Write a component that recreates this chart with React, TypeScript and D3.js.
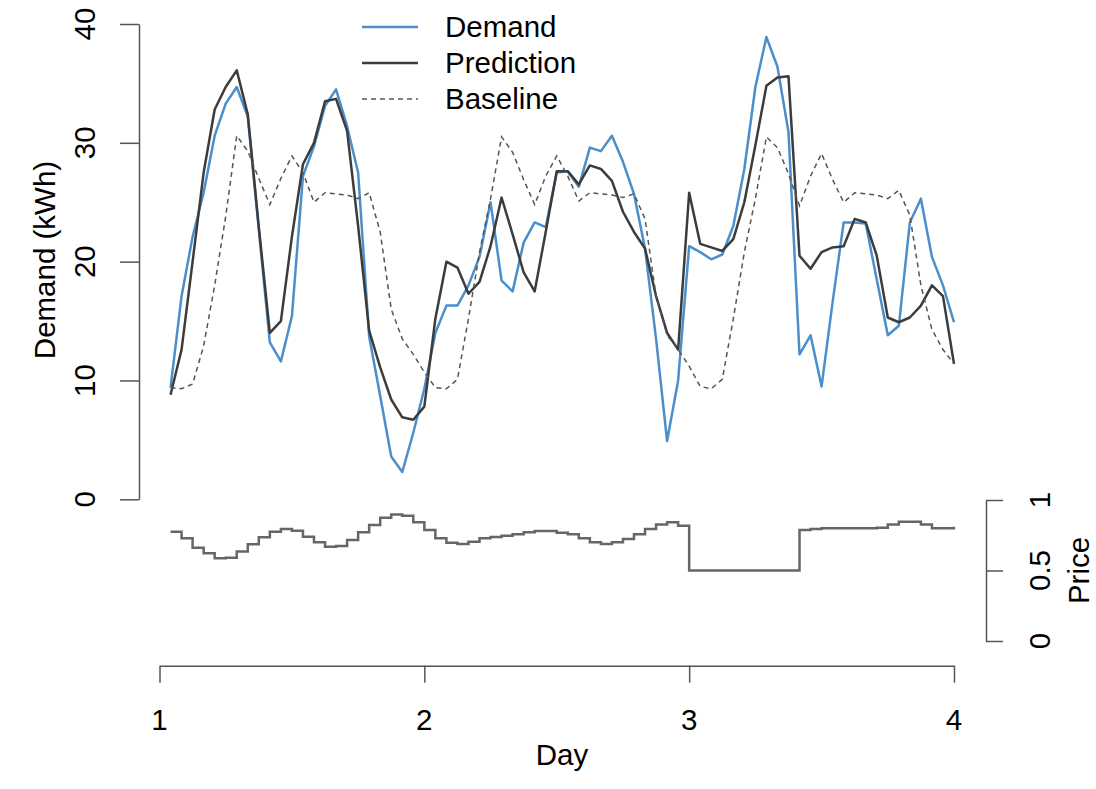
import React, { useRef, useEffect } from 'react';
import * as d3 from 'd3';

// hourly index over three days, day = 1 + hour / 24
const hours = d3.range(1, 73);

const demand = [
  9.4, 17.1, 22.1, 25.8, 30.6, 33.3, 34.7, 32.2, 22.7, 13.2, 11.6, 15.4,
  27.2, 29.7, 33.1, 34.5, 31.4, 27.5, 13.7, 8.7, 3.6, 2.3, 5.6, 9.3,
  14.0, 16.3, 16.3, 18.0, 20.4, 25.0, 18.4, 17.5, 21.6, 23.3, 22.9, 27.5,
  27.6, 26.3, 29.6, 29.3, 30.6, 28.4, 25.7, 21.1, 13.5, 4.9, 10.0, 21.3,
  20.8, 20.2, 20.6, 23.0, 27.8, 34.7, 38.9, 36.4, 30.9, 12.2, 13.8, 9.5,
  16.6, 23.3, 23.3, 23.2, 18.5, 13.8, 14.6, 23.3, 25.3, 20.4, 18.0, 14.9,
];

const prediction = [
  8.8, 12.6, 20.0, 27.5, 32.8, 34.7, 36.1, 32.4, 22.9, 14.0, 15.0, 22.1,
  28.2, 30.0, 33.5, 33.7, 31.0, 23.0, 14.2, 11.1, 8.4, 6.9, 6.7, 7.8,
  15.2, 20.0, 19.5, 17.3, 18.3, 21.3, 25.4, 22.3, 19.1, 17.5, 22.5, 27.6,
  27.6, 26.5, 28.1, 27.8, 26.8, 24.2, 22.5, 21.1, 17.1, 14.0, 12.6, 25.8,
  21.5, 21.2, 20.9, 21.9, 25.0, 29.8, 34.8, 35.5, 35.6, 20.5, 19.4, 20.8,
  21.2, 21.3, 23.6, 23.3, 20.5, 15.3, 14.9, 15.3, 16.3, 18.0, 17.1, 11.4,
];

const baseline = [
  9.4, 9.3, 9.7, 12.9, 18.0, 23.8, 30.6, 29.3, 27.0, 24.8, 27.0, 28.9,
  27.5, 25.0, 25.8, 25.7, 25.6, 25.3, 25.8, 22.5, 16.0, 13.5, 12.2, 10.7,
  9.4, 9.3, 10.1, 15.2, 20.8, 25.3, 30.5, 29.2, 26.9, 24.8, 27.2, 28.9,
  27.2, 25.1, 25.8, 25.7, 25.6, 25.4, 25.7, 23.6, 17.1, 13.8, 12.6, 11.2,
  9.5, 9.3, 10.1, 15.2, 20.8, 25.3, 30.5, 29.6, 27.4, 24.7, 27.2, 29.1,
  26.9, 25.0, 25.8, 25.7, 25.6, 25.3, 26.0, 23.9, 18.0, 14.3, 12.6, 11.4,
];

const price = [
  0.775, 0.728, 0.662, 0.622, 0.586, 0.591, 0.634, 0.686, 0.735, 0.775, 0.794, 0.782,
  0.740, 0.700, 0.669, 0.674, 0.716, 0.771, 0.823, 0.875, 0.898, 0.889, 0.842, 0.787,
  0.728, 0.697, 0.688, 0.704, 0.728, 0.738, 0.747, 0.757, 0.771, 0.780, 0.780, 0.768,
  0.757, 0.728, 0.700, 0.688, 0.700, 0.723, 0.757, 0.794, 0.827, 0.842, 0.818, 0.5,
  0.5, 0.5, 0.5, 0.5, 0.5, 0.5, 0.5, 0.5, 0.5, 0.787, 0.794, 0.799,
  0.799, 0.799, 0.799, 0.799, 0.804, 0.827, 0.846, 0.846, 0.827, 0.799, 0.799, 0.811,
];

const dayTicks = [1, 2, 3, 4];
const demandTicks = [0, 10, 20, 30, 40];
const priceTicks = [0, 0.5, 1];

const legendItems = [
  { label: 'Demand', color: '#4a8fcc', width: 2.5, dash: null },
  { label: 'Prediction', color: '#3c3c3c', width: 2.5, dash: null },
  { label: 'Baseline', color: '#555', width: 1.5, dash: '5,4' },
];

const FONT = '"Liberation Sans", Arial, Helvetica, sans-serif';
const FS = 29.5;

const App = () => {
  const ref = useRef<SVGSVGElement | null>(null);

  useEffect(() => {
    if (!ref.current) return;
    const svg = d3.select(ref.current);
    svg.selectAll('*').remove();

    const x = d3.scaleLinear().domain([1, 4]).range([159.5, 954]);
    const y = d3.scaleLinear().domain([0, 40]).range([499.3, 24]);
    const yp = d3.scaleLinear().domain([0, 1]).range([641, 500]);
    const day = (h: number) => 1 + h / 24;

    const axisColor = '#555';

    // left axis
    svg.append('g')
      .attr('transform', 'translate(139,0)')
      .call(d3.axisLeft(y).tickValues(demandTicks).tickSize(19).tickSizeOuter(0))
      .call(g => g.selectAll('text').remove())
      .call(g => g.selectAll('path,line').attr('stroke', axisColor).attr('stroke-width', 1.5));

    demandTicks.forEach(t => {
      svg.append('text')
        .attr('transform', `translate(85,${y(t)}) rotate(-90)`)
        .attr('text-anchor', 'middle')
        .attr('dy', '0.35em')
        .attr('font-family', FONT)
        .attr('font-size', FS)
        .text(t);
    });

    svg.append('text')
      .attr('transform', 'translate(45,260) rotate(-90)')
      .attr('text-anchor', 'middle')
      .attr('dy', '0.35em')
      .attr('font-family', FONT)
      .attr('font-size', FS)
      .text('Demand (kWh)');

    // bottom axis
    svg.append('g')
      .attr('transform', 'translate(0,665.7)')
      .call(d3.axisBottom(x).tickValues(dayTicks).tickSize(17).tickSizeOuter(0))
      .call(g => g.selectAll('text').remove())
      .call(g => g.selectAll('path,line').attr('stroke', axisColor).attr('stroke-width', 1.5));

    dayTicks.forEach(t => {
      svg.append('text')
        .attr('x', x(t))
        .attr('y', 720)
        .attr('text-anchor', 'middle')
        .attr('dy', '0.35em')
        .attr('font-family', FONT)
        .attr('font-size', FS)
        .text(t);
    });

    svg.append('text')
      .attr('x', 562)
      .attr('y', 755)
      .attr('text-anchor', 'middle')
      .attr('dy', '0.35em')
      .attr('font-family', FONT)
      .attr('font-size', FS)
      .text('Day');

    // right price axis
    svg.append('g')
      .attr('transform', 'translate(986,0)')
      .call(d3.axisRight(yp).tickValues(priceTicks).tickSize(17).tickSizeOuter(0))
      .call(g => g.selectAll('text').remove())
      .call(g => g.selectAll('path,line').attr('stroke', axisColor).attr('stroke-width', 1.5));

    priceTicks.forEach(t => {
      svg.append('text')
        .attr('transform', `translate(1040,${yp(t)}) rotate(-90)`)
        .attr('text-anchor', 'middle')
        .attr('dy', '0.35em')
        .attr('font-family', FONT)
        .attr('font-size', FS)
        .text(t);
    });

    svg.append('text')
      .attr('transform', `translate(1079,${yp(0.5)}) rotate(-90)`)
      .attr('text-anchor', 'middle')
      .attr('dy', '0.35em')
      .attr('font-family', FONT)
      .attr('font-size', FS)
      .text('Price');

    // series
    const line = d3.line<number>()
      .x((_, i) => x(day(hours[i])))
      .y(d => y(d));

    svg.append('path')
      .datum(demand)
      .attr('d', line)
      .attr('fill', 'none')
      .attr('stroke', legendItems[0].color)
      .attr('stroke-width', 2.5)
      .attr('stroke-linejoin', 'round');

    svg.append('path')
      .datum(prediction)
      .attr('d', line)
      .attr('fill', 'none')
      .attr('stroke', legendItems[1].color)
      .attr('stroke-width', 2.5)
      .attr('stroke-linejoin', 'round');

    svg.append('path')
      .datum(baseline)
      .attr('d', line)
      .attr('fill', 'none')
      .attr('stroke', legendItems[2].color)
      .attr('stroke-width', 1.5)
      .attr('stroke-dasharray', '5,4');

    const priceLine = d3.line<number>()
      .x((_, i) => x(day(hours[i])))
      .y(d => yp(d))
      .curve(d3.curveStepAfter);

    svg.append('path')
      .datum(price)
      .attr('d', priceLine)
      .attr('fill', 'none')
      .attr('stroke', '#666')
      .attr('stroke-width', 2.5);

    // legend
    const legend = svg.append('g');
    legendItems.forEach((item, i) => {
      const ly = 27 + i * 36;
      legend.append('line')
        .attr('x1', 362).attr('x2', 418)
        .attr('y1', ly).attr('y2', ly)
        .attr('stroke', item.color)
        .attr('stroke-width', item.width)
        .attr('stroke-dasharray', item.dash);
      legend.append('text')
        .attr('x', 445)
        .attr('y', ly)
        .attr('dy', '0.35em')
        .attr('font-family', FONT)
        .attr('font-size', FS)
        .text(item.label);
    });
  }, []);

  return (
    <svg
      ref={ref}
      width={1096}
      height={789}
      style={{ position: 'absolute', left: 0, top: 0, background: '#fff' }}
    />
  );
};

export default App;
